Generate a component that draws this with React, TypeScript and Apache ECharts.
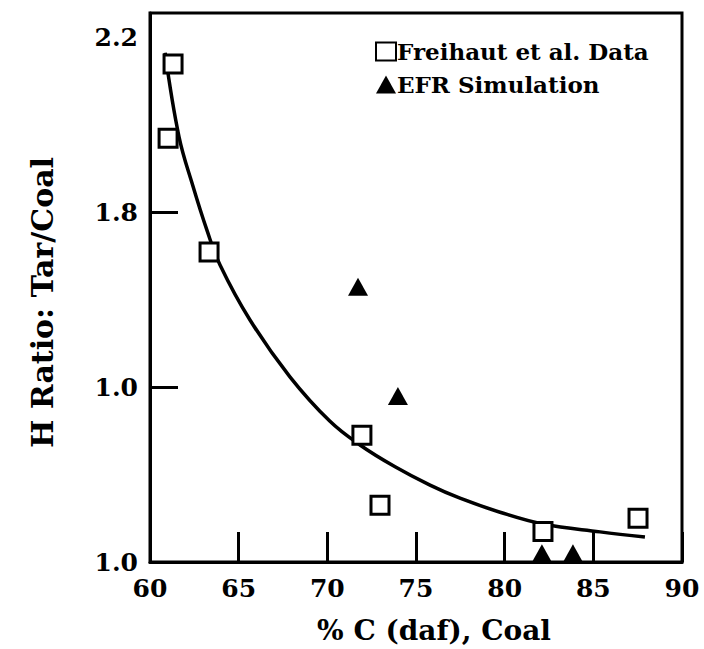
import React, { useEffect, useRef } from "react";
import * as echarts from "echarts";

const xTickLabels = ["60", "65", "70", "75", "80", "85", "90"];
const yTickValues = [1.0, 1.4, 1.8, 2.2];
const yTickLabels = ["1.0", "1.0", "1.8", "2.2"];

const freihautC = [61.02, 61.3, 63.33, 71.95, 72.97, 82.16, 87.52];
const freihautH = [1.97, 2.14, 1.71, 1.29, 1.13, 1.07, 1.1];

const efrC = [71.73, 73.98, 82.1, 83.85];
const efrH = [1.63, 1.38, 1.02, 1.02];

const fitC = [60.85, 61.64, 62.42, 63.21, 63.95, 65.64, 67.89, 70.15, 71.84, 73.82, 75.79, 77.48, 79.74, 82.16, 85.38, 87.91];
const fitH = [2.166, 1.973, 1.861, 1.76, 1.68, 1.554, 1.424, 1.322, 1.268, 1.218, 1.176, 1.146, 1.114, 1.087, 1.069, 1.057];

const FONT = "DejaVu Serif";

export default function App() {
  const ref = useRef<HTMLDivElement>(null);
  useEffect(() => {
    document.body.style.margin = "0";
    document.body.style.overflow = "hidden";
    if (!ref.current) return;
    const chart = echarts.init(ref.current, null, { renderer: "svg" });
    const zip = (a: number[], b: number[]) => a.map((v, i) => [v, b[i]]);
    chart.setOption({
      animation: false,
      backgroundColor: "#ffffff",
      grid: {
        left: 150,
        right: 22,
        top: 13,
        bottom: 87,
        show: true,
        borderColor: "#000",
        borderWidth: 3,
      },
      legend: {
        orient: "vertical",
        left: 370,
        top: 35,
        itemWidth: 20,
        itemHeight: 18,
        itemGap: 10,
        data: ["Freihaut et al. Data", "EFR Simulation"],
        textStyle: { fontFamily: FONT, fontSize: 23, fontWeight: "bold", color: "#000", padding: [0, 0, 0, -4] },
      },
      xAxis: {
        type: "value",
        min: 60,
        max: 90,
        interval: 5,
        name: "% C (daf), Coal",
        nameLocation: "middle",
        nameGap: 54,
        nameTextStyle: { fontFamily: FONT, fontSize: 28, fontWeight: "bold", color: "#000", padding: [0, 0, 0, 36] },
        axisLine: { show: true, onZero: false, lineStyle: { color: "#000", width: 3 } },
        axisTick: { show: true, inside: true, length: 30, lineStyle: { color: "#000", width: 3 } },
        axisLabel: {
          fontFamily: FONT,
          fontSize: 25,
          fontWeight: "bold",
          color: "#000",
          margin: 14,
          showMaxLabel: true,
          formatter: (v: number) => xTickLabels[Math.round((v - 60) / 5)] ?? "",
        },
        splitLine: { show: false },
      },
      yAxis: {
        type: "value",
        min: 1.0,
        max: 2.257,
        interval: 0.4,
        name: "H Ratio: Tar/Coal",
        nameLocation: "middle",
        nameGap: 93,
        nameRotate: 90,
        nameTextStyle: { fontFamily: FONT, fontSize: 30, fontWeight: "bold", color: "#000", padding: [0, 30, 0, 0] },
        axisLine: { show: true, onZero: false, lineStyle: { color: "#000", width: 3 } },
        axisTick: {
          show: true,
          inside: true,
          length: 28,
          lineStyle: { color: "#000", width: 3 },
          customValues: [1.4, 1.8],
        },
        axisLabel: {
          fontFamily: FONT,
          fontSize: 25,
          fontWeight: "bold",
          color: "#000",
          margin: 12,
          customValues: yTickValues,
          formatter: (v: number) => yTickLabels[Math.round((v - 1.0) / 0.4)] ?? "",
        },
        splitLine: { show: false },
      },
      series: [
        {
          name: "fit",
          type: "line",
          data: zip(fitC, fitH),
          smooth: 0.4,
          showSymbol: false,
          symbol: "none",
          lineStyle: { color: "#000", width: 3.5 },
          z: 1,
        },
        {
          name: "Freihaut et al. Data",
          type: "scatter",
          data: zip(freihautC, freihautH),
          symbol: "rect",
          symbolSize: 18,
          itemStyle: { color: "#fff", borderColor: "#000", borderWidth: 3, opacity: 1 },
          z: 3,
        },
        {
          name: "EFR Simulation",
          type: "scatter",
          data: zip(efrC, efrH),
          symbol: "triangle",
          symbolSize: [20, 18],
          itemStyle: { color: "#000", opacity: 1 },
          z: 4,
        },
      ],
    });
    return () => chart.dispose();
  }, []);
  return <div ref={ref} style={{ width: 704, height: 649 }} />;
}
